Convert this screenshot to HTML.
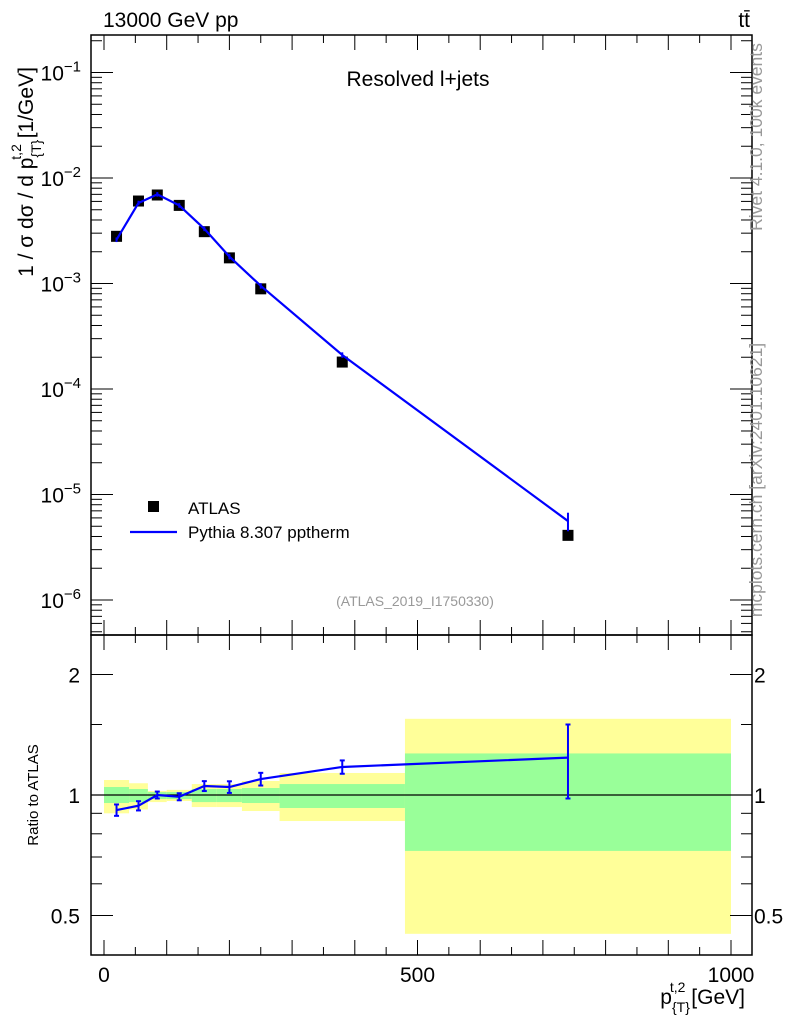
<!DOCTYPE html>
<html><head><meta charset="utf-8"><style>
body{margin:0;background:#fff;}
svg{display:block;font-family:"Liberation Sans",sans-serif;}
</style></head><body>
<svg id="c" width="786" height="1024" viewBox="0 0 786 1024"></svg>
<script>
const xCenters=[20,55,85,120,160,200,250,380,740];
const binEdges=[0,40,70,100,140,180,220,280,480,1000];
const atlasVals=[2.8e-3,6.05e-3,6.9e-3,5.5e-3,3.1e-3,1.75e-3,8.9e-4,1.8e-4,4.1e-6];
const mcVals=[2.6e-3,5.8e-3,7.0e-3,5.5e-3,3.3e-3,1.8e-3,9.5e-4,2.1e-4,5.6e-6];
const mcErr=[0.05,0.05,0.05,0.05,0.05,0.06,0.06,0.06,0.2];
const ratioVals=[0.917,0.94,1.0,0.99,1.053,1.047,1.096,1.175,1.24];
const ratioErr=[0.03,0.025,0.02,0.02,0.03,0.035,0.04,0.045,0.26];
const yelUp=[1.09,1.07,1.023,1.03,1.065,1.065,1.084,1.135,1.55];
const yelDn=[0.90,0.92,0.96,0.966,0.933,0.933,0.912,0.861,0.45];
const grnUp=[1.047,1.035,1.017,1.017,1.035,1.035,1.041,1.065,1.27];
const grnDn=[0.955,0.96,0.977,0.977,0.96,0.96,0.955,0.928,0.725];
const xTicks=[0,500,1000];

const L=91,R=752,T=35,MB=635,RB=955;
const sx=v=>104+v*0.627;
const sy=v=>178-105.5*(Math.log10(v)+2);
const ry=v=>795-120.5*Math.log2(v);
const svg=document.getElementById('c');
const NS='http://www.w3.org/2000/svg';
function mk(tag,at,txt){const e=document.createElementNS(NS,tag);for(const k in at)e.setAttribute(k,at[k]);if(txt!==undefined)e.textContent=txt;svg.appendChild(e);return e;}

for(let i=0;i<9;i++){
 const x0=sx(binEdges[i]),x1=sx(binEdges[i+1]);
 let e=mk('rect',{x:x0,y:ry(yelUp[i]),width:x1-x0,height:ry(yelDn[i])-ry(yelUp[i]),fill:'#ffff99'});
 
 e=mk('rect',{x:x0,y:ry(grnUp[i]),width:x1-x0,height:ry(grnDn[i])-ry(grnUp[i]),fill:'#99ff99'});
 
}
let ln=mk('line',{x1:L,x2:R,y1:ry(1),y2:ry(1),stroke:'#000','stroke-width':1.2});


let f=mk('rect',{x:L,y:T,width:R-L,height:MB-T,fill:'none',stroke:'#000','stroke-width':1.5});

f=mk('rect',{x:L,y:MB,width:R-L,height:RB-MB,fill:'none',stroke:'#000','stroke-width':1.5});


for(let v=0;v<=1000;v+=50){
 const x=sx(v),maj=v%100===0,len=maj?15:8;
 [[T,1],[MB,-1],[MB,1],[RB,-1]].forEach(([y,d])=>mk('line',{x1:x,x2:x,y1:y,y2:y+d*len,stroke:'#000','stroke-width':1}));
}
xTicks.forEach(v=>{const t=mk('text',{x:sx(v),y:982,'font-size':21,'text-anchor':'middle'},v);});

for(let d=-7;d<=-1;d++){
 for(let m=1;m<10;m++){
  const y=sy(m*Math.pow(10,d));if(y<T||y>MB)continue;
  const len=m===1?22:11;
  mk('line',{x1:L,x2:L+len,y1:y,y2:y,stroke:'#000','stroke-width':1});
  mk('line',{x1:R,x2:R-len,y1:y,y2:y,stroke:'#000','stroke-width':1});
 }
 const y=sy(Math.pow(10,d));if(y<T||y>MB)continue;
 const t=mk('text',{x:81,y:y+8,'font-size':21,'text-anchor':'end'});
 
 t.innerHTML='10<tspan dy="-9" font-size="15">−'+(-d)+'</tspan>';
}
[0.5,0.6,0.7,0.8,0.9,1,1.5,2].forEach(v=>{
 const y=ry(v),len=(v===0.5||v===1||v===2)?22:11;
 mk('line',{x1:L,x2:L+len,y1:y,y2:y,stroke:'#000','stroke-width':1});
 mk('line',{x1:R,x2:R-len,y1:y,y2:y,stroke:'#000','stroke-width':1});
});
[[2,'2'],[1,'1'],[0.5,'0.5']].forEach(([v,s])=>{
 let t=mk('text',{x:80,y:ry(v)+8,'font-size':21,'text-anchor':'end'},s);
 t=mk('text',{x:754,y:ry(v)+8,'font-size':21},s);
});

atlasVals.forEach((v,i)=>{const r=mk('rect',{x:sx(xCenters[i])-5.5,y:sy(v)-5.5,width:11,height:11,fill:'#000'});});
let pts=mcVals.map((v,i)=>sx(xCenters[i])+','+sy(v)).join(' ');
let pl=mk('polyline',{points:pts,fill:'none',stroke:'#0000ff','stroke-width':2.2});

mcVals.forEach((v,i)=>{const x=sx(xCenters[i]);const e=mk('line',{x1:x,x2:x,y1:sy(v*(1+mcErr[i])),y2:sy(v*(1-mcErr[i])),stroke:'#0000ff','stroke-width':2});});
pts=ratioVals.map((v,i)=>sx(xCenters[i])+','+ry(v)).join(' ');
pl=mk('polyline',{points:pts,fill:'none',stroke:'#0000ff','stroke-width':2.2});

ratioVals.forEach((v,i)=>{const x=sx(xCenters[i]),y1=ry(v+ratioErr[i]),y2=ry(v-ratioErr[i]);
 const e=mk('line',{x1:x,x2:x,y1:y1,y2:y2,stroke:'#0000ff','stroke-width':2});
 mk('line',{x1:x-2.5,x2:x+2.5,y1:y1,y2:y1,stroke:'#0000ff','stroke-width':2});
 mk('line',{x1:x-2.5,x2:x+2.5,y1:y2,y2:y2,stroke:'#0000ff','stroke-width':2});
});
</script>
<svg style="position:absolute;left:0;top:0" width="786" height="1024" font-family="Liberation Sans, sans-serif">
 <text x="103" y="27" font-size="21">13000 GeV pp</text>
 <text x="750" y="27" font-size="21" text-anchor="end">tt̄</text>
 <text x="418" y="86" font-size="21" text-anchor="middle">Resolved l+jets</text>
 <rect x="148" y="501" width="11" height="11" fill="#000"/>
 <text x="188" y="514" font-size="17">ATLAS</text>
 <line x1="130" x2="177" y1="532" y2="532" stroke="#0000ff" stroke-width="2.2"/>
 <text x="188" y="538" font-size="17">Pythia 8.307 pptherm</text>
 <text x="415" y="606" font-size="14" fill="#999" text-anchor="middle">(ATLAS_2019_I1750330)</text>
 <text transform="translate(33,172) rotate(-90)" font-size="21" text-anchor="middle">1 / σ dσ / d p<tspan dy="8" font-size="14">{T}</tspan><tspan dx="-20" dy="-20" font-size="14">t,2</tspan><tspan dy="12"> [1/GeV]</tspan></text>
 <text transform="translate(38,795) rotate(-90)" font-size="15" text-anchor="middle">Ratio to ATLAS</text>
 <text x="745" y="1004" font-size="21" text-anchor="end">p<tspan dy="8" font-size="14">{T}</tspan><tspan dx="-20" dy="-20" font-size="14">t,2</tspan><tspan dy="12"> [GeV]</tspan></text>
 <text transform="translate(762,137) rotate(-90)" font-size="17.5" fill="#999" text-anchor="middle">Rivet 4.1.0,  100k events</text>
 <text transform="translate(762,480) rotate(-90)" font-size="17.5" fill="#999" text-anchor="middle">mcplots.cern.ch [arXiv:2401.10621]</text>
</svg>
</body></html>
